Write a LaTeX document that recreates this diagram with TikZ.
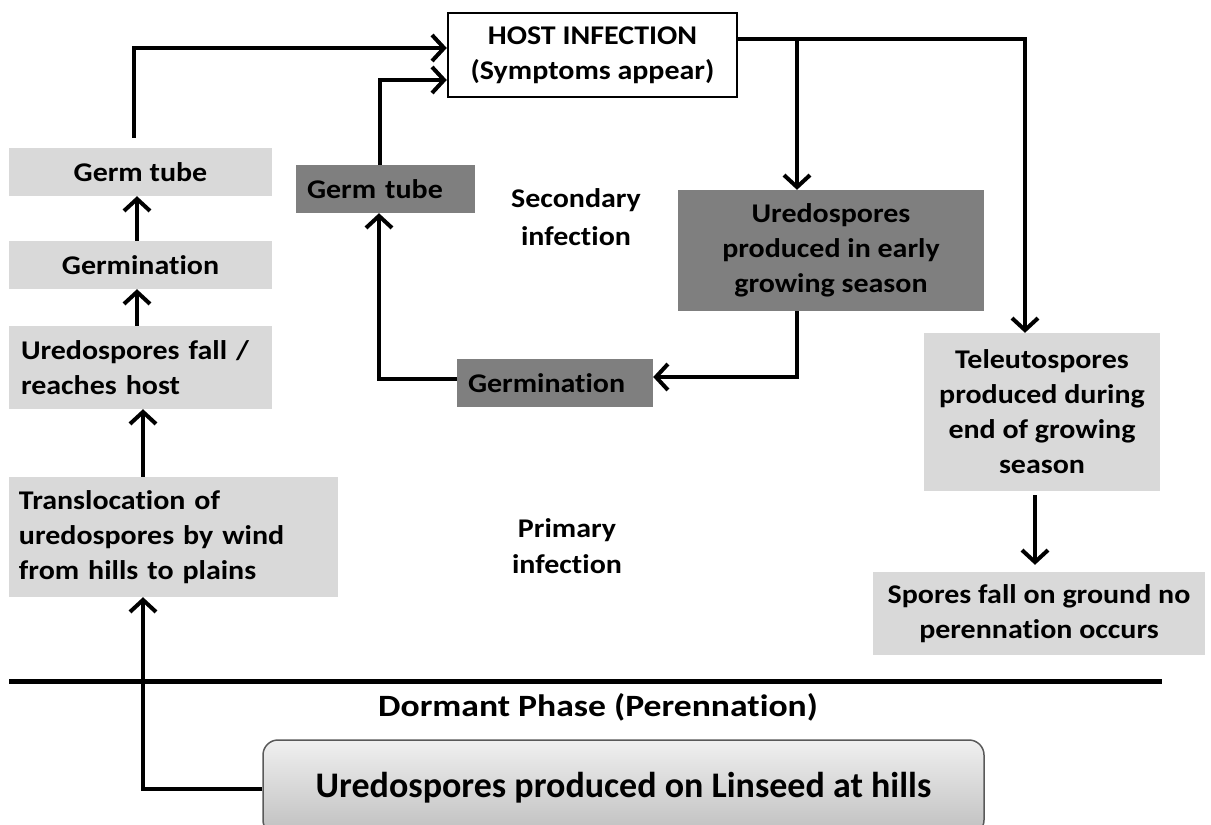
\documentclass[tikz,border=0pt]{standalone}
\usepackage{fontspec}
\setmainfont{Carlito}[FakeStretch=1.11, Ligatures=NoCommon]
\newfontfamily\wideDormant{Carlito}[FakeStretch=1.15, Ligatures=NoCommon]
\newfontfamily\plainfont{Carlito}[Ligatures=NoCommon]
\usetikzlibrary{arrows.meta}
\definecolor{lgray}{HTML}{D9D9D9}
\definecolor{dgray}{HTML}{7F7F7F}
\begin{document}
\begin{tikzpicture}[x=1pt,y=-1pt,
  txt/.style={font=\fontsize{27}{35}\selectfont\bfseries, inner sep=0pt},
  lbox/.style={txt, fill=lgray, draw=none},
  dbox/.style={txt, fill=dgray, draw=none},
  hostbox/.style={txt, fill=white, draw=black, line width=2.5pt},
  basebox/.style={font=\plainfont\fontsize{36}{40}\selectfont\bfseries, inner sep=0pt,
    rounded corners=15pt, draw=black!65, line width=1.5pt,
    top color=black!6, bottom color=black!25},
  arr/.style={line width=4pt, -{Straight Barb[length=12pt,width=26pt]}},
  divider/.style={line width=5pt}
]
\useasboundingbox (0,0) rectangle (1211,825);
\clip (0,0) rectangle (1211,825);

% nodes
\node[hostbox, minimum width=289, minimum height=84, align=center] (host) at (592.5,55) {HOST INFECTION\\(Symptoms appear)};

\node[lbox, minimum width=263, minimum height=48] (gt1) at (140.5,172) {Germ tube};
\node[lbox, minimum width=263, minimum height=48] (gm1) at (140.5,265) {Germination};
\node[lbox, text width=239, inner xsep=12, minimum height=83, align=left] (uf) at (140.5,367.5) {Uredospores fall /\\reaches host};
\node[lbox, text width=309, inner xsep=10, minimum height=120, align=left] (tr) at (173.5,537) {Translocation of\\uredospores by wind\\from hills to plains};

\node[dbox, text width=157, inner xsep=11, minimum height=48, align=left] (gt2) at (385.5,189) {Germ tube};
\node[dbox, text width=174, inner xsep=11, minimum height=48, align=left] (gm2) at (555,383) {Germination};
\node[dbox, minimum width=306, minimum height=121, align=center] (ur) at (831,250.5) {Uredospores\\produced in early\\growing season};

\node[lbox, minimum width=236, minimum height=158, align=center] (te) at (1042,412) {Teleutospores\\produced during\\end of growing\\season};
\node[lbox, minimum width=332, minimum height=83, align=center] (sf) at (1039,613.5) {Spores fall on ground no\\perennation occurs};

\node[txt, font=\fontsize{27}{38}\selectfont\bfseries, align=center] (sec) at (576,217) {Secondary\\infection};
\node[txt, font=\fontsize{27}{36}\selectfont\bfseries, align=center] (pri) at (567,546) {Primary\\infection};
\node[txt, font=\wideDormant\fontsize{31}{37}\selectfont\bfseries] (dorm) at (598,707) {Dormant Phase (Perennation)};

\node[basebox, minimum width=721, minimum height=95] (base) at (623.5,787.5) {Uredospores produced on Linseed at hills};

% divider
\coordinate (dl) at (9,681);
\coordinate (dr) at (1162,681);
\draw[divider] (dl) -- (dr);

% connectors
\coordinate (hr) at ([yshift=16pt]host.east);
\coordinate (urtop) at ([xshift=-34pt]ur.north);
\coordinate (urbot) at ([xshift=-34pt]ur.south);
\coordinate (trb) at ([xshift=-30.5pt]tr.south);

\draw[arr] (hr) -| ([xshift=-17pt]te.north);
\draw[arr] (urtop |- hr) -- (urtop);
\draw[arr] (urbot) |- ([yshift=6pt]gm2.east);
\draw[arr] ([yshift=4pt]gm2.west) -| ([xshift=-6.5pt]gt2.south);
\draw[arr] ([xshift=-5.5pt]gt2.north) |- ([yshift=-25pt]host.west);
\draw[arr] ([xshift=-6.5pt,yshift=10pt]gt1.north) |- ([yshift=7pt]host.west);
\draw[arr] ([xshift=-3.5pt]gm1.north) -- ([xshift=-3.5pt]gt1.south);
\draw[arr] ([xshift=-3.5pt]uf.north) -- ([xshift=-3.5pt]gm1.south);
\draw[arr] ([xshift=-30.5pt]tr.north) -- ([xshift=2.5pt]uf.south);
\draw[arr] ([yshift=-1.5pt]base.west) -| (trb);
\draw[arr] ([xshift=-7pt,yshift=-4pt]te.south) -- ([xshift=-4pt,yshift=7pt]sf.north);
\end{tikzpicture}
\end{document}
